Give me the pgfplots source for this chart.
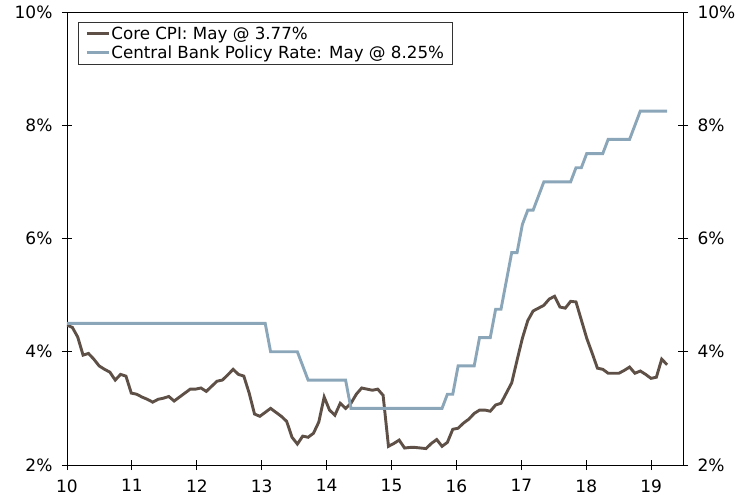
\documentclass[border=0pt]{standalone}
\usepackage{fontspec}
\setmainfont{DejaVu Sans}
\usepackage{pgfplots}
\usepackage{pgfplotstable}
\pgfplotsset{compat=1.18}
\definecolor{cpi}{RGB}{94,80,70}
\definecolor{rate}{RGB}{138,166,184}
\pgfplotstableread{
i cpi rate
0 4.47 4.5
1 4.43 4.5
2 4.26 4.5
3 3.94 4.5
4 3.97 4.5
5 3.87 4.5
6 3.75 4.5
7 3.69 4.5
8 3.64 4.5
9 3.50 4.5
10 3.60 4.5
11 3.57 4.5
12 3.27 4.5
13 3.25 4.5
14 3.20 4.5
15 3.16 4.5
16 3.11 4.5
17 3.16 4.5
18 3.18 4.5
19 3.21 4.5
20 3.13 4.5
21 3.20 4.5
22 3.27 4.5
23 3.34 4.5
24 3.34 4.5
25 3.36 4.5
26 3.30 4.5
27 3.39 4.5
28 3.48 4.5
29 3.50 4.5
30 3.59 4.5
31 3.69 4.5
32 3.60 4.5
33 3.57 4.5
34 3.27 4.5
35 2.90 4.5
36 2.86 4.5
37 2.93 4.5
38 3.00 4.0
39 2.93 4.0
40 2.86 4.0
41 2.77 4.0
42 2.49 4.0
43 2.37 4.0
44 2.51 3.75
45 2.49 3.5
46 2.56 3.5
47 2.76 3.5
48 3.20 3.5
49 2.97 3.5
50 2.88 3.5
51 3.09 3.5
52 3.00 3.5
53 3.09 3.0
54 3.25 3.0
55 3.36 3.0
56 3.34 3.0
57 3.32 3.0
58 3.34 3.0
59 3.23 3.0
60 2.33 3.0
61 2.38 3.0
62 2.44 3.0
63 2.30 3.0
64 2.31 3.0
65 2.31 3.0
66 2.30 3.0
67 2.29 3.0
68 2.38 3.0
69 2.45 3.0
70 2.33 3.0
71 2.40 3.25
72 2.63 3.25
73 2.65 3.75
74 2.74 3.75
75 2.81 3.75
76 2.91 3.75
77 2.97 4.25
78 2.97 4.25
79 2.95 4.25
80 3.06 4.75
81 3.09 4.75
82 3.27 5.25
83 3.45 5.75
84 3.85 5.75
85 4.24 6.25
86 4.55 6.5
87 4.72 6.5
88 4.77 6.75
89 4.82 7.0
90 4.93 7.0
91 4.98 7.0
92 4.79 7.0
93 4.77 7.0
94 4.89 7.0
95 4.88 7.25
96 4.56 7.25
97 4.24 7.5
98 3.98 7.5
99 3.71 7.5
100 3.69 7.5
101 3.62 7.75
102 3.62 7.75
103 3.62 7.75
104 3.67 7.75
105 3.73 7.75
106 3.62 8.0
107 3.66 8.25
108 3.60 8.25
109 3.53 8.25
110 3.55 8.25
111 3.87 8.25
112 3.77 8.25
}\datatable
\begin{document}
\begin{tikzpicture}
\path[use as bounding box] (-67pt,-32pt) rectangle (684pt,465pt);
\pgfplotsset{
  base/.style={
    scale only axis, width=616pt, height=453pt,
    xmin=10, xmax=19.49, ymin=2, ymax=10,
    ytick={2,4,6,8,10},
    yticklabels={2\%,4\%,6\%,8\%,10\%},
    tick align=center,
    major tick length=10pt,
    axis line style={line width=0.9pt},
    every tick/.style={black, line width=0.9pt},
    ticklabel style={font=\fontsize{17}{20}\selectfont},
  }
}
\begin{axis}[base,
  xtick={10,...,19},
  xticklabels={10,11,12,13,14,15,16,17,18,19},
  xtick pos=bottom, ytick pos=left,
  xticklabel style={yshift=-6pt},
  yticklabel style={xshift=-6pt},
  legend style={at={(0,1)}, anchor=north west, xshift=11pt, yshift=-10pt,
    draw=black!80, line width=0.8pt, inner xsep=7pt, inner ysep=3.5pt,
    font=\fontsize{16.7}{19}\selectfont,
    nodes={inner xsep=1pt, inner ysep=1pt}, row sep=3pt},
  legend cell align=left,
  legend image code/.code={\draw[#1, line width=3pt] (0pt,0pt) -- (22pt,0pt);},
]
\addplot[cpi, line width=2.9pt] table[x expr=10+\thisrow{i}*0.08254, y=cpi] {\datatable};
\addlegendentry{Core CPI: May @ 3.77\%}
\addplot[rate, line width=2.9pt] table[x expr=10+\thisrow{i}*0.08254, y=rate] {\datatable};
\addlegendentry{Central Bank Policy Rate: May @ 8.25\%}
\end{axis}
\begin{axis}[base,
  axis x line=none, axis y line*=right,
  ytick pos=right,
  yticklabel style={xshift=6pt},
]
\addplot[draw=none] coordinates {(10,2)};
\end{axis}
\end{tikzpicture}
\end{document}
